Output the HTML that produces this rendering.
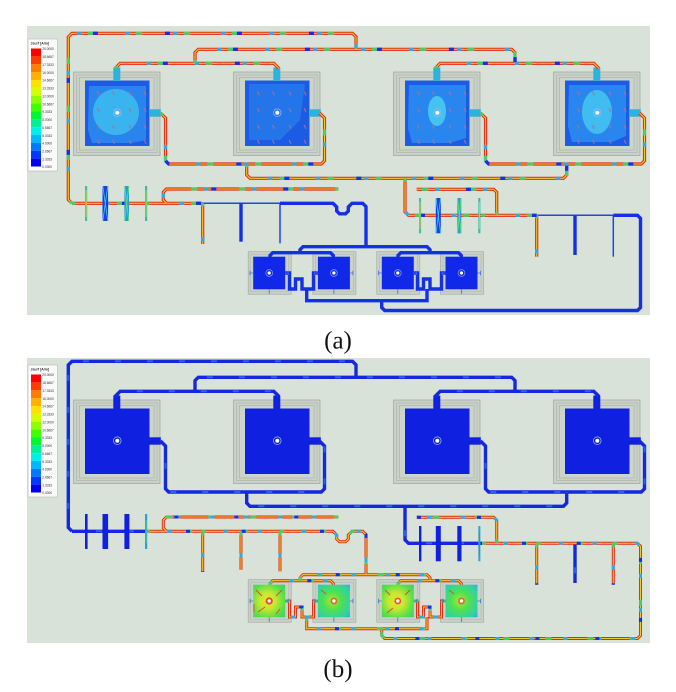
<!DOCTYPE html>
<html><head><meta charset="utf-8"><style>
html,body{margin:0;padding:0;background:#fff;}
svg{display:block;}
</style></head><body>
<svg width="676" height="692" viewBox="0 0 676 692" xmlns="http://www.w3.org/2000/svg" xmlns:xlink="http://www.w3.org/1999/xlink">
<defs>
 <path id="loop" d="M72 203.3 L68.3 199.6 V37 L72 33.3 H352.5 L356 36.8 V49.3"/>
 <path id="top2" d="M195 63.3 V52.6 L198.3 49.3 H511.7 L515 52.6 V63.3"/>
 <path id="f12" d="M115 68.5 L120.2 63.3 H273.8 L279 68.5"/>
 <path id="f34" d="M435 68.5 L440.2 63.3 H593.8 L599 68.5"/>
 <path id="s12" d="M160.5 113 L165.5 118 V160.8 L168.7 164 H321.3 L324.5 160.8 V118 L319.5 113"/>
 <path id="s34" d="M480.5 113 L485.5 118 V160.8 L488.7 164 H641.3 L644.5 160.8 V118 L639.5 113"/>
 <path id="mid" d="M246.7 164 V175 L250 178.3 H563.4 L566.7 175 V164"/>
 <path id="fR1" d="M405 178.3 V211.8 L408.5 215.3 H482"/>
 <path id="fR2" d="M482 215.3 H536.7"/>
 <path id="fR3" d="M536.7 215.3 H613.3"/>
 <path id="fR4" d="M613.3 215.3 H637.5 L640.5 218.3 V307.5 L637.5 310.5 H384.7 L381.7 307.5 V300.7"/>
 <path id="loopR" d="M496.7 215.3 V192.3 L493.7 189.3 H416.7"/>
 <path id="stR1" d="M536.7 215.3 V256.7"/>
 <path id="stR2" d="M575 215.3 V255"/>
 <path id="stR3" d="M613.3 215.3 V256.7"/>
 <path id="fL1" d="M72 203.3 H146"/>
 <path id="fL2" d="M146 203.3 H201.7"/>
 <path id="loopL" d="M338.3 189 H166.5 L163.3 192.2 V200 L166.5 203.3"/>
 <path id="stL1" d="M202.7 203.3 V244"/>
 <path id="thin1" d="M201.7 203.3 H280"/>
 <path id="stL2" d="M241 203.3 V241.7"/>
 <path id="stL3" d="M280 203.3 V243.3"/>
 <path id="dip" d="M280 203.3 H333 L336.7 207 V211 L339.5 213.8 H345.5 L348.3 211 V207 L352 203.3 H362.7 L366 206.6 V246.7"/>
 <path id="smTop" d="M300 252.7 V249.7 L303 246.7 H427 L430 249.7 V252.7"/>
 <path id="sp12" d="M270 257 V255.5 L272.8 252.7 H330.5 L333.3 255.5 V257"/>
 <path id="sp34" d="M398 257 V255.5 L400.8 252.7 H458.5 L461.3 255.5 V257"/>
 <path id="m12" d="M285.2 273 H289.5 V289 H295.5 V279 H302 V289 H313.5 V273 H317.9"/>
 <path id="m34" d="M413.8 273 H417.5 V289 H423.5 V279 H430 V289 H441.5 V273 H445.5"/>
 <path id="bot" d="M306.7 289 V300.7 H427 V289"/>

 <g id="hotA">
  <use href="#loop"/><use href="#top2"/><use href="#f12"/><use href="#f34"/>
  <use href="#s12"/><use href="#s34"/><use href="#mid"/><use href="#fR1"/>
  <use href="#fR2"/><use href="#loopR"/><use href="#stR1"/><use href="#fL1"/>
  <use href="#fL2"/><use href="#loopL"/><use href="#stL1"/>
 </g>
 <g id="coldAthin"><use href="#fR3"/><use href="#thin1"/><use href="#stL3"/><use href="#stR3"/></g>
 <g id="coldAthick">
  <use href="#fR4"/><use href="#stR2"/><use href="#stL2"/><use href="#dip"/>
  <use href="#smTop"/><use href="#sp12"/><use href="#sp34"/><use href="#m12"/>
  <use href="#m34"/><use href="#bot"/>
 </g>
 <g id="coldB">
  <use href="#loop"/><use href="#top2"/><use href="#f12"/><use href="#f34"/>
  <use href="#s12"/><use href="#s34"/><use href="#mid"/><use href="#fR1"/>
  <use href="#fL1"/><use href="#stR2"/>
 </g>
 <g id="hotB">
  <use href="#fR2"/><use href="#fR3"/><use href="#fR4"/><use href="#loopR"/>
  <use href="#stR1"/><use href="#stR3"/><use href="#fL2"/><use href="#loopL"/>
  <use href="#stL1"/><use href="#thin1"/><use href="#stL2"/><use href="#stL3"/>
  <use href="#dip"/><use href="#smTop"/><use href="#sp12"/><use href="#sp34"/>
  <use href="#m12"/><use href="#m34"/><use href="#bot"/>
 </g>

 <g id="bigFrame">
  <rect x="73.5" y="72" width="86.5" height="83.5" fill="#c9d1c9" stroke="#a2aaa2" stroke-width="0.8"/>
  <rect x="76.5" y="75" width="80.5" height="77.5" fill="none" stroke="#aab2aa" stroke-width="0.6"/>
  <rect x="79.5" y="77.5" width="74.5" height="72.5" fill="#ccd4cc" stroke="#a6aea6" stroke-width="0.6"/>
 </g>
 <g id="smFrame">
  <rect x="248.2" y="251.7" width="43" height="42.5" fill="#c9d1c9" stroke="#a2aaa2" stroke-width="0.7"/>
  <rect x="250.7" y="254.2" width="38" height="37.5" fill="none" stroke="#aab2aa" stroke-width="0.5"/>
 </g>
 <g id="arr" stroke="#b86a88" stroke-width="1.1">
  <path d="M97.5 91.5 L99.3 95.3 M112.5 91.5 L114.3 95.3 M129.2 91.5 L131 95.3 M144.2 91.5 L146 95.3"/>
  <path d="M97.5 108.2 L99.3 112 M129.2 108.2 L131 112 M144.2 108.2 L146 112"/>
  <path d="M97.5 125 L99.3 128.8 M112.5 125 L114.3 128.8 M129.2 125 L131 128.8 M144.2 125 L146 128.8"/>
  <path d="M97.5 140 L99.3 143.8 M112.5 140 L114.3 143.8 M129.2 140 L131 143.8 M144.2 140 L146 143.8"/>
 </g>
 <g id="legend">
  <rect x="28" y="39" width="29.5" height="132" fill="#fafafa" stroke="#b8b8b8" stroke-width="0.6"/>
  <rect x="31" y="48.5" width="10" height="7.9" fill="#ff0000"/>
  <rect x="31" y="56.37" width="10" height="7.9" fill="#ff3c00"/>
  <rect x="31" y="64.23" width="10" height="7.9" fill="#ff7c00"/>
  <rect x="31" y="72.1" width="10" height="7.9" fill="#ffb000"/>
  <rect x="31" y="79.97" width="10" height="7.9" fill="#ffe000"/>
  <rect x="31" y="87.83" width="10" height="7.9" fill="#d4ff00"/>
  <rect x="31" y="95.7" width="10" height="7.9" fill="#8cff00"/>
  <rect x="31" y="103.57" width="10" height="7.9" fill="#40ff00"/>
  <rect x="31" y="111.43" width="10" height="7.9" fill="#00f830"/>
  <rect x="31" y="119.3" width="10" height="7.9" fill="#00f098"/>
  <rect x="31" y="127.17" width="10" height="7.9" fill="#00f0e8"/>
  <rect x="31" y="135.03" width="10" height="7.9" fill="#00b8ff"/>
  <rect x="31" y="142.9" width="10" height="7.9" fill="#0078ff"/>
  <rect x="31" y="150.77" width="10" height="7.9" fill="#0038ff"/>
  <rect x="31" y="158.63" width="10" height="7.87" fill="#0000f0"/>
  <g font-family="Liberation Sans, sans-serif" fill="#333" font-size="6.4">
   <text transform="translate(30.5,44.5) scale(0.5)" font-weight="bold" font-size="7">Jsurf [A/m]</text>
   <text transform="translate(42.3,50.2) scale(0.5)">20.0000</text>
   <text transform="translate(42.3,58.1) scale(0.5)">18.6667</text>
   <text transform="translate(42.3,66) scale(0.5)">17.3333</text>
   <text transform="translate(42.3,73.8) scale(0.5)">16.0000</text>
   <text transform="translate(42.3,81.7) scale(0.5)">14.6667</text>
   <text transform="translate(42.3,89.6) scale(0.5)">13.3333</text>
   <text transform="translate(42.3,97.4) scale(0.5)">12.0000</text>
   <text transform="translate(42.3,105.3) scale(0.5)">10.6667</text>
   <text transform="translate(42.3,113.2) scale(0.5)">9.3333</text>
   <text transform="translate(42.3,121) scale(0.5)">8.0000</text>
   <text transform="translate(42.3,128.9) scale(0.5)">6.6667</text>
   <text transform="translate(42.3,136.8) scale(0.5)">5.3333</text>
   <text transform="translate(42.3,144.6) scale(0.5)">4.0000</text>
   <text transform="translate(42.3,152.5) scale(0.5)">2.6667</text>
   <text transform="translate(42.3,160.4) scale(0.5)">1.3333</text>
   <text transform="translate(42.3,168.2) scale(0.5)">0.0000</text>
  </g>
 </g>
 <g id="common">
  <use href="#bigFrame"/><use href="#bigFrame" x="160"/><use href="#bigFrame" x="320"/><use href="#bigFrame" x="480"/>
  <use href="#smFrame"/><use href="#smFrame" x="64.7"/><use href="#smFrame" x="128.6"/><use href="#smFrame" x="192.3"/>
 </g>
 <g id="bigDot">
  <circle cx="117.3" cy="112.7" r="3.8" fill="none" stroke="#8fb4ff" stroke-width="0.8"/>
  <circle cx="117.3" cy="112.7" r="2" fill="#ffffff"/>
 </g>
 <g id="smDot">
  <circle cx="269.2" cy="273" r="3.4" fill="none" stroke="#8aa0ff" stroke-width="0.7"/>
  <circle cx="269.2" cy="273" r="1.6" fill="#ffffff"/>
 </g>
 <g id="smTicks" stroke-width="0.8">
  <path d="M249.6 273 H253.2 M250 270.8 V275.2 M285.1 273 H288.6 M288.2 270.8 V275.2 M269.2 289.3 V294"/>
 </g>
 <radialGradient id="gY" cx="0.45" cy="0.5" r="0.7">
  <stop offset="0" stop-color="#f0e030"/><stop offset="0.35" stop-color="#c8e830"/><stop offset="0.75" stop-color="#58e048"/><stop offset="1" stop-color="#40d070"/>
 </radialGradient>
 <radialGradient id="gG" cx="0.45" cy="0.5" r="0.7">
  <stop offset="0" stop-color="#a8e838"/><stop offset="0.4" stop-color="#50e050"/><stop offset="0.85" stop-color="#30d0a8"/><stop offset="1" stop-color="#30b0e0"/>
 </radialGradient>
 <clipPath id="cA"><rect x="27" y="26" width="623" height="289"/></clipPath>
 <clipPath id="cB"><rect x="27" y="30" width="623" height="285"/></clipPath>
</defs>

<rect width="676" height="692" fill="#ffffff"/>
<rect x="27" y="26" width="623" height="289" fill="#d8e2d8"/>
<rect x="27" y="358" width="623" height="285" fill="#d8e2d8"/>

<g clip-path="url(#cA)">
 <use href="#common"/>
 <rect x="85" y="80.5" width="64.5" height="65.5" fill="#1c5ce4"/>
 <path d="M89 86 H146 V140 L132 143 H92 L88 130 Z" fill="#2a84ee"/>
 <ellipse cx="116" cy="112" rx="23" ry="23" fill="#3ab4ee"/>
 <rect x="245" y="80.5" width="64.5" height="65.5" fill="#1c5ce4"/>
 <path d="M249 84 H305 L300 120 L280 140 H249 Z" fill="#2474ea"/>
 <rect x="405" y="80.5" width="64.5" height="65.5" fill="#1c5ce4"/>
 <path d="M409 85 H466 V138 L450 143 H412 L408 128 Z" fill="#2a86ef"/>
 <ellipse cx="437" cy="111" rx="9" ry="15" fill="#44c2f0"/>
 <rect x="565" y="80.5" width="64.5" height="65.5" fill="#1c5ce4"/>
 <path d="M569 85 H626 V136 L612 142 H572 L568 126 Z" fill="#2a86ef"/>
 <ellipse cx="597" cy="112" rx="15" ry="22" fill="#40bcf0"/>
 <use href="#arr"/><use href="#arr" x="160"/><use href="#arr" x="320"/><use href="#arr" x="480"/>
 <use href="#bigDot"/><use href="#bigDot" x="160"/><use href="#bigDot" x="320"/><use href="#bigDot" x="480"/>
 <g fill="#2cb2dc">
  <rect x="113.3" y="67.5" width="7" height="13.5"/><rect x="273.3" y="67.5" width="7" height="13.5"/>
  <rect x="433.3" y="67.5" width="7" height="13.5"/><rect x="593.3" y="67.5" width="7" height="13.5"/>
  <rect x="149" y="109.3" width="11.8" height="7.4"/><rect x="309" y="109.3" width="11.8" height="7.4"/>
  <rect x="469" y="109.3" width="11.8" height="7.4"/><rect x="629" y="109.3" width="11.8" height="7.4"/>
 </g>
 <use href="#coldAthin" fill="none" stroke="#2242ea" stroke-width="1.5"/>
 <use href="#coldAthick" fill="none" stroke="#1430e6" stroke-width="3.4"/>
 <use href="#hotA" fill="none" stroke="#e02c14" stroke-width="3.2"/>
 <use href="#hotA" fill="none" stroke="#f0c830" stroke-width="1.1"/>
 <use href="#hotA" fill="none" stroke="#48d068" stroke-width="3" stroke-dasharray="6 42" stroke-dashoffset="3"/>
 <use href="#hotA" fill="none" stroke="#20b0f0" stroke-width="3.2" stroke-dasharray="4 44" stroke-dashoffset="14"/>
 <use href="#hotA" fill="none" stroke="#1030f0" stroke-width="3.3" stroke-dasharray="5 67" stroke-dashoffset="22"/>
 <rect x="85" y="186" width="2.2" height="35" fill="#40c0a0"/><path d="M86.1 190 V217" stroke="#e8d030" stroke-width="0.8"/>
 <rect x="102.5" y="186" width="5.6" height="35" fill="#1440e8"/><path d="M102.8 186 L107.8 221 M107.8 186 L102.8 221" stroke="#40d0f0" stroke-width="0.8"/>
 <rect x="124.4" y="186" width="4.6" height="35" fill="#20a0d8"/><path d="M124.6 186 L128.8 221 M128.8 186 L124.6 221" stroke="#60e070" stroke-width="0.9"/>
 <rect x="145" y="186" width="2.2" height="35" fill="#38b8b0"/><path d="M146.1 190 V217" stroke="#b8e040" stroke-width="0.8"/>
 <rect x="419" y="198" width="2.1" height="35.3" fill="#40c0a0"/><path d="M420 202 V229" stroke="#e0d040" stroke-width="0.8"/>
 <rect x="435.8" y="198" width="5" height="35.3" fill="#1440e8"/><path d="M436 198 L440.6 233.3 M440.6 198 L436 233.3" stroke="#40d0f0" stroke-width="0.8"/>
 <rect x="457.3" y="198" width="4" height="35.3" fill="#20a0d8"/><path d="M457.5 198 L461.1 233.3 M461.1 198 L457.5 233.3" stroke="#60e070" stroke-width="0.9"/>
 <rect x="478.3" y="198" width="2.1" height="35.3" fill="#38b8b0"/><path d="M479.3 202 V229" stroke="#d0e040" stroke-width="0.8"/>
 <g fill="#1028e8">
  <rect x="253.2" y="256.7" width="32" height="32.6"/><rect x="317.9" y="256.7" width="32" height="32.6"/>
  <rect x="381.8" y="256.7" width="32" height="32.6"/><rect x="445.5" y="256.7" width="32" height="32.6"/>
 </g>
 <g stroke="#4a68e8"><use href="#smTicks"/><use href="#smTicks" x="64.7"/><use href="#smTicks" x="128.6"/><use href="#smTicks" x="192.3"/></g>
 <use href="#smDot"/><use href="#smDot" x="64.7"/><use href="#smDot" x="128.6"/><use href="#smDot" x="192.3"/>
 <use href="#legend"/>
</g>

<g transform="translate(0,328)">
<g clip-path="url(#cB)">
 <use href="#common"/>
 <g fill="#1020e0">
  <rect x="85" y="80.5" width="64.5" height="65.5"/><rect x="245" y="80.5" width="64.5" height="65.5"/>
  <rect x="405" y="80.5" width="64.5" height="65.5"/><rect x="565" y="80.5" width="64.5" height="65.5"/>
  <rect x="113.3" y="67.5" width="7" height="13.5"/><rect x="273.3" y="67.5" width="7" height="13.5"/>
  <rect x="433.3" y="67.5" width="7" height="13.5"/><rect x="593.3" y="67.5" width="7" height="13.5"/>
  <rect x="149" y="109.3" width="11.8" height="7.4"/><rect x="309" y="109.3" width="11.8" height="7.4"/>
  <rect x="469" y="109.3" width="11.8" height="7.4"/><rect x="629" y="109.3" width="11.8" height="7.4"/>
 </g>
 <use href="#bigDot"/><use href="#bigDot" x="160"/><use href="#bigDot" x="320"/><use href="#bigDot" x="480"/>
 <use href="#coldB" fill="none" stroke="#1428e0" stroke-width="3.4"/>
 <use href="#coldB" fill="none" stroke="#2a62ee" stroke-width="2" stroke-dasharray="6 26" stroke-dashoffset="8"/>
 <use href="#hotB" fill="none" stroke="#e02c14" stroke-width="3"/>
 <use href="#hotB" fill="none" stroke="#f0c830" stroke-width="1.1"/>
 <use href="#hotB" fill="none" stroke="#48d068" stroke-width="2.8" stroke-dasharray="6 36" stroke-dashoffset="2"/>
 <use href="#hotB" fill="none" stroke="#20b0f0" stroke-width="3" stroke-dasharray="4 30" stroke-dashoffset="12"/>
 <use href="#hotB" fill="none" stroke="#1030f0" stroke-width="3.1" stroke-dasharray="4 56" stroke-dashoffset="20"/>
 <g fill="#1020e0">
  <rect x="85" y="186" width="2.6" height="35"/><rect x="102.5" y="186" width="5.6" height="35"/><rect x="124.4" y="186" width="5" height="35"/>
  <rect x="419" y="198" width="2.4" height="35.3"/><rect x="435.8" y="198" width="5" height="35.3"/><rect x="457.3" y="198" width="4.2" height="35.3"/>
 </g>
 <rect x="145" y="186" width="2.2" height="35" fill="#2aa0e0"/><path d="M146.1 192 V215" stroke="#50d080" stroke-width="0.8"/>
 <rect x="478.3" y="198" width="2.1" height="35.3" fill="#30a8d8"/><path d="M479.3 204 V228" stroke="#e05030" stroke-width="0.8"/>
 <rect x="253.2" y="256.7" width="32" height="32.6" fill="url(#gY)"/>
 <rect x="317.9" y="256.7" width="32" height="32.6" fill="url(#gG)"/>
 <rect x="381.8" y="256.7" width="32" height="32.6" fill="url(#gY)"/>
 <rect x="445.5" y="256.7" width="32" height="32.6" fill="url(#gG)"/>
 <g stroke="#e04a20" stroke-width="0.9" fill="none">
  <path d="M256 262 L262 268 M258 284 L265 279 M282 262 L276 268 M276 286 L280 281 M254 276 V284"/>
  <path d="M385 262 L390 267 M387 285 L393 280 M410 262 L405 267"/>
  <path d="M321 262 L326 266 M449 262 L454 266"/>
 </g>
 <g stroke="#3a7ad0"><use href="#smTicks"/><use href="#smTicks" x="64.7"/><use href="#smTicks" x="128.6"/><use href="#smTicks" x="192.3"/></g>
 <g>
  <circle cx="269.2" cy="273" r="3.6" fill="#e04a20"/><circle cx="269.2" cy="273" r="1.7" fill="#fff"/>
  <circle cx="333.9" cy="273" r="3.4" fill="#e06a20"/><circle cx="333.9" cy="273" r="1.7" fill="#fff"/>
  <circle cx="397.8" cy="273" r="3.4" fill="#e05a20"/><circle cx="397.8" cy="273" r="1.7" fill="#fff"/>
  <circle cx="461.5" cy="273" r="3.4" fill="#e06a20"/><circle cx="461.5" cy="273" r="1.7" fill="#fff"/>
 </g>
 <use href="#legend" y="-2"/>
</g>
</g>

<text x="338" y="348.5" text-anchor="middle" font-family="Liberation Serif, serif" font-size="25" fill="#111">(a)</text>
<text x="338" y="677" text-anchor="middle" font-family="Liberation Serif, serif" font-size="25" fill="#111">(b)</text>
</svg>
</body></html>
